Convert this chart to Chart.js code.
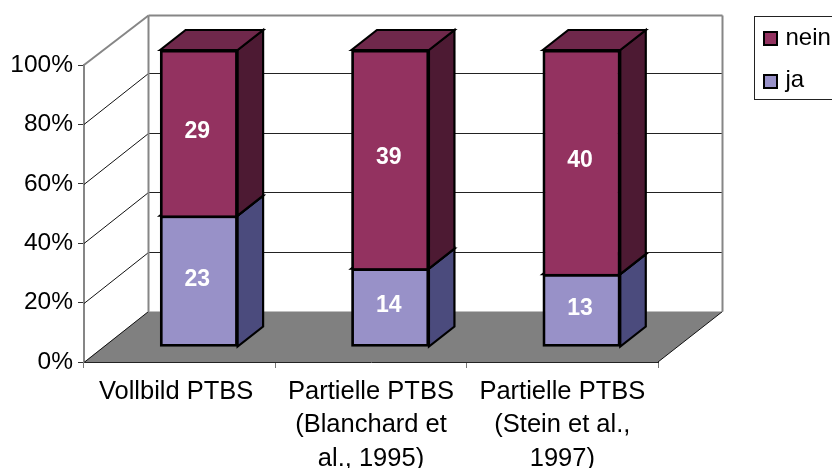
<!DOCTYPE html>
<html>
<head>
<meta charset="utf-8">
<title>PTBS</title>
<script src="https://cdn.jsdelivr.net/npm/chart.js@4/dist/chart.umd.min.js"></script>
<style>
  html, body { margin: 0; background: #fff; }
  canvas { display: block; }
</style>
</head>
<body>
<canvas id="chartCanvas" width="832" height="468"></canvas>
<script>
const categories = [
    "Vollbild PTBS ",
    ["Partielle PTBS", "(Blanchard et", "al., 1995)"],
    ["Partielle PTBS", "(Stein et al.,", "1997)"]
];
const jaCounts = [23, 14, 13];
const neinCounts = [29, 39, 40];
const percentTicks = [0, 20, 40, 60, 80, 100];

// stacked to 100%, so bar heights come from the counts
const share = (part, other) => part.map((v, i) => v / (v + other[i]) * 100);

// depth of the box and of the bars, in pixels
const WALL_DX = 64.5, WALL_DY = -50.5;
const BAR_SHIFT_X = 19.2, BAR_SHIFT_Y = -15;
const BAR_DX = 25.5, BAR_DY = -20;

const faces = [
    { side: "#4b4b7d", top: "#6f6f9c" },
    { side: "#4d1a33", top: "#6f284b" }
];

function poly(ctx, pts, fill, stroke, lw) {
    ctx.beginPath();
    pts.forEach((p, i) => i ? ctx.lineTo(p[0], p[1]) : ctx.moveTo(p[0], p[1]));
    ctx.closePath();
    if (fill) {
        ctx.fillStyle = fill;
        ctx.fill();
    }
    if (stroke) {
        ctx.strokeStyle = stroke;
        ctx.lineWidth = lw;
        ctx.stroke();
    }
}

function line(ctx, x1, y1, x2, y2, color, lw) {
    ctx.beginPath();
    ctx.moveTo(x1, y1);
    ctx.lineTo(x2, y2);
    ctx.strokeStyle = color;
    ctx.lineWidth = lw;
    ctx.stroke();
}

const box3d = {
    id: "box3d",
    beforeDatasetsDraw(chart) {
        const ctx = chart.ctx;
        const { left, right } = chart.chartArea;
        const y = chart.scales.y;
        const y0 = y.getPixelForValue(0);
        const y100 = y.getPixelForValue(100);
        const wallTop = y100 + WALL_DY + 1;

        ctx.save();
        ctx.lineJoin = "miter";

        // floor
        poly(ctx, [
            [left, y0],
            [left + WALL_DX, y0 + WALL_DY],
            [right + WALL_DX, y0 + WALL_DY],
            [right, y0]
        ], "#808080");

        // grid lines run along the left wall and across the back wall
        percentTicks.forEach(t => {
            if (t === 100) return;
            const py = Math.round(y.getPixelForValue(t)) + 0.5;
            const backY = py + WALL_DY - 0.5;
            line(ctx, left, py, left + WALL_DX, backY, "#111", 1);
            if (t > 0) {
                line(ctx, left + WALL_DX, backY, right + WALL_DX, backY, "#222", 1);
            }
        });
        line(ctx, right, y0, right + WALL_DX, y0 + WALL_DY, "#111", 1);

        // wall outline
        const grey = "#868686";
        line(ctx, left, y100, left + WALL_DX, wallTop, grey, 2);
        line(ctx, left + WALL_DX, wallTop, right + WALL_DX, wallTop, grey, 2);
        line(ctx, left + WALL_DX, wallTop, left + WALL_DX, y0 + WALL_DY, grey, 2);
        line(ctx, right + WALL_DX, wallTop, right + WALL_DX, y0 + WALL_DY, grey, 2);

        // side and top of each bar, behind the front faces
        ctx.translate(BAR_SHIFT_X, BAR_SHIFT_Y);
        chart.data.datasets.forEach((ds, d) => {
            chart.getDatasetMeta(d).data.forEach(bar => {
                const r = bar.x + bar.width / 2;
                const l = bar.x - bar.width / 2;
                poly(ctx, [
                    [r, bar.y],
                    [r + BAR_DX, bar.y + BAR_DY],
                    [r + BAR_DX, bar.base + BAR_DY],
                    [r, bar.base]
                ], faces[d].side, "#000", 2.2);
                poly(ctx, [
                    [l, bar.y],
                    [l + BAR_DX, bar.y + BAR_DY],
                    [r + BAR_DX, bar.y + BAR_DY],
                    [r, bar.y]
                ], faces[d].top, "#000", 2.2);
            });
        });
        // left translated while the library draws the front faces
    },
    afterDatasetsDraw(chart) {
        const ctx = chart.ctx;

        // value labels show the counts
        ctx.fillStyle = "#fff";
        ctx.font = "bold 23px 'Liberation Sans', Arial, sans-serif";
        ctx.textAlign = "center";
        ctx.textBaseline = "middle";
        chart.data.datasets.forEach((ds, d) => {
            chart.getDatasetMeta(d).data.forEach((bar, i) => {
                ctx.fillText(ds.counts[i], bar.x - 1.5, (bar.y + bar.base) / 2 - 1.5);
            });
        });
        ctx.restore();

        // legend, top series first
        ctx.save();
        ctx.strokeStyle = "#222";
        ctx.lineWidth = 1;
        ctx.strokeRect(754.5, 16.5, 90, 83);
        ctx.font = "24px 'Liberation Sans', Arial, sans-serif";
        ctx.textAlign = "left";
        ctx.textBaseline = "alphabetic";
        [1, 0].forEach((d, row) => {
            const ds = chart.data.datasets[d];
            const top = 32 + row * 43;
            ctx.fillStyle = ds.backgroundColor;
            ctx.fillRect(764, top, 13, 13);
            ctx.strokeStyle = "#000";
            ctx.lineWidth = 2;
            ctx.strokeRect(764, top, 13, 13);
            ctx.fillStyle = "#000";
            ctx.fillText(ds.label, 785.5, 45 + row * 42);
        });
        ctx.restore();
    }
};

new Chart(document.getElementById("chartCanvas").getContext("2d"), {
    type: "bar",
    data: {
        labels: categories,
        datasets: [
            {
                label: "ja",
                counts: jaCounts,
                data: share(jaCounts, neinCounts),
                backgroundColor: "#9891c8",
                borderSkipped: false
            },
            {
                label: "nein",
                counts: neinCounts,
                data: share(neinCounts, jaCounts),
                backgroundColor: "#933260",
                borderSkipped: "bottom"
            }
        ]
    },
    options: {
        responsive: false,
        animation: false,
        layout: {
            padding: { left: 0, right: 174, top: 65, bottom: 0 }
        },
        datasets: {
            bar: {
                clip: false,
                borderColor: "#000",
                borderWidth: 2.8,
                inflateAmount: 0.3,
                barPercentage: 0.405,
                categoryPercentage: 1
            }
        },
        scales: {
            x: {
                stacked: true,
                afterFit: scale => { scale.height = 106; },
                border: { color: "#222", width: 1 },
                grid: { drawOnChartArea: false, color: "#777", tickLength: 6, offset: true },
                ticks: {
                    color: "#000",
                    padding: 7,
                    maxRotation: 0,
                    font: { family: "'Liberation Sans', Arial, sans-serif", size: 25.5, lineHeight: 1.31 }
                }
            },
            y: {
                stacked: true,
                min: 0,
                max: 100,
                afterFit: scale => { scale.width = 84; },
                afterBuildTicks: scale => {
                    scale.ticks = percentTicks.map(value => ({ value }));
                },
                border: { color: "#868686", width: 2 },
                grid: { drawOnChartArea: false, color: "#333", tickLength: 6 },
                ticks: {
                    color: "#000",
                    padding: 5,
                    callback: v => v + "%",
                    font: { family: "'Liberation Sans', Arial, sans-serif", size: 24.5 }
                }
            }
        },
        plugins: {
            legend: { display: false },
            tooltip: { enabled: false }
        }
    },
    plugins: [box3d]
});
</script>
</body>
</html>
